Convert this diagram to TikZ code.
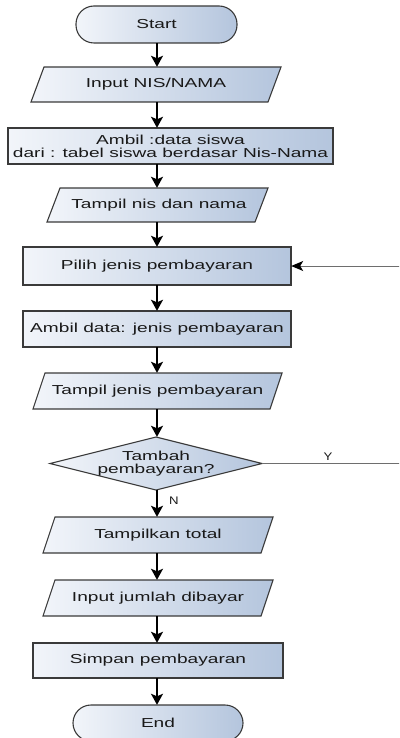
\documentclass[tikz,border=0pt]{standalone}
\usepackage{fontspec}
\setmainfont[FakeStretch=1.47]{Liberation Sans}
\newfontfamily\lblfont[FakeStretch=1.2]{Liberation Sans}
\usetikzlibrary{arrows.meta}
\definecolor{fillL}{HTML}{F2F5FA}
\definecolor{fillR}{HTML}{B4C5DD}
\definecolor{edgec}{HTML}{3A3A3A}
\definecolor{fbc}{HTML}{6E6E6E}
\tikzset{
  shp/.style={draw=edgec, line width=1.1pt, left color=fillL, right color=fillR},
  txt/.style={inner sep=0pt, align=center, font=\fontsize{13}{13}\selectfont, text=black!90},
  lbl/.style={inner sep=0pt, font=\lblfont\fontsize{11}{11}\selectfont, text=black!90},
  arr/.style={line width=1.6pt, -{Stealth[width=12pt,length=11pt,inset=2.5pt]}},
  fbline/.style={draw=fbc, line width=1pt, -{Stealth[width=10pt,length=12pt,inset=3pt,color=black]}}
}
\begin{document}
\begin{tikzpicture}[x=1pt,y=-1pt]
\useasboundingbox (0,0) rectangle (399,738);
\clip (0,0) rectangle (399,738);
% shapes
\path[shp, rounded corners=18pt] (76,6) rectangle (237,43);
\path[shp] (31,102) -- (268,102) -- (281,67) -- (44,67) -- cycle;
\path[shp] (8,128) rectangle (333,164);
\path[shp] (47,222) -- (255,222) -- (268,188) -- (60,188) -- cycle;
\path[shp] (23,247) rectangle (291,285);
\path[shp] (23,311) rectangle (291,347);
\path[shp] (33,409) -- (270,409) -- (282,373) -- (45,373) -- cycle;
\path[shp] (50,463.5) -- (156,437) -- (262,463.5) -- (156,490) -- cycle;
\path[shp] (43,553) -- (261,553) -- (273,517) -- (55,517) -- cycle;
\path[shp] (43,616) -- (261,616) -- (273,580) -- (55,580) -- cycle;
\path[shp] (33,643) rectangle (283,678);
\path[shp, rounded corners=18pt] (73,705) rectangle (243,741);
% nodes
\node[txt, minimum width=161pt, minimum height=37pt] (start) at (156.5,24.5) {Start};
\node[txt, minimum width=250pt, minimum height=35pt] (in1) at (156,84.5) {Input NIS/NAMA};
\node[txt, minimum width=325pt, minimum height=36pt] (ambil1) at (170.5,146) {Ambil :data siswa\\dari : tabel siswa berdasar Nis-Nama};
\node[txt, minimum width=221pt, minimum height=34pt] (out1) at (159,205) {Tampil nis dan nama};
\node[txt, minimum width=268pt, minimum height=38pt] (pilih) at (157,266) {Pilih jenis pembayaran};
\node[txt, minimum width=268pt, minimum height=36pt] (ambil2) at (157,329) {Ambil data: jenis pembayaran};
\node[txt, minimum width=249pt, minimum height=36pt] (out2) at (157.5,391) {Tampil jenis pembayaran};
\node[txt, minimum width=212pt, minimum height=53pt] (dec) at (156,463.5) {Tambah\\pembayaran?};
\node[txt, minimum width=230pt, minimum height=36pt] (out3) at (158,535) {Tampilkan total};
\node[txt, minimum width=230pt, minimum height=36pt] (in2) at (158,598) {Input jumlah dibayar};
\node[txt, minimum width=250pt, minimum height=35pt] (simpan) at (158,660.5) {Simpan pembayaran};
\node[txt, minimum width=170pt, minimum height=36pt] (end) at (158,723) {End};
\node[lbl] (ylab) at (328,457) {Y};
\node[lbl] (nlab) at (174,500.5) {N};
% connectors
\coordinate (ax) at (157,0);
\coordinate (fbx) at (420,0);
\draw[arr] (start.south -| ax) -- (in1.north -| ax);
\draw[arr] (in1.south -| ax) -- (ambil1.north -| ax);
\draw[arr] (ambil1.south -| ax) -- (out1.north -| ax);
\draw[arr] (out1.south -| ax) -- (pilih.north -| ax);
\draw[arr] (pilih.south -| ax) -- (ambil2.north -| ax);
\draw[arr] (ambil2.south -| ax) -- (out2.north -| ax);
\draw[arr] (out2.south -| ax) -- (dec.north -| ax);
\draw[arr] (dec.south -| ax) -- (out3.north -| ax);
\draw[arr] (out3.south -| ax) -- (in2.north -| ax);
\draw[arr] (in2.south -| ax) -- (simpan.north -| ax);
\draw[arr] (simpan.south -| ax) -- (end.north -| ax);
\draw[fbline] (dec.east) -- (dec.east -| fbx) -- (pilih.east -| fbx) -- (pilih.east);
\end{tikzpicture}
\end{document}
